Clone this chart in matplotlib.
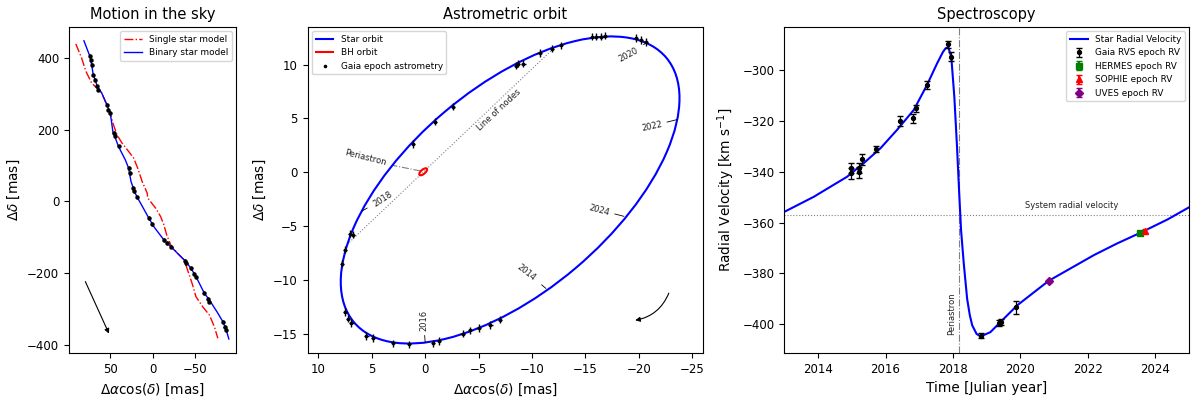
import matplotlib
matplotlib.use('Agg')
import matplotlib.pyplot as plt
from matplotlib.patches import Ellipse
from matplotlib.lines import Line2D

# ---------------- Panel 1: motion in the sky ----------------
single_ra = [90.5, 83.7, 78.6, 71.8, 65.8, 59.9, 50.8, 46.1, 42.0, 36.1, 28.2, 22.3, 17.5, 12.3,
             6.3, 5.6, -3.6, -9.5, -13.4, -16.7, -21.4, -29.4, -37.2, -41.3, -47.2, -51.2,
             -59.1, -67.0, -72.9, -77.0]
single_dec = [439, 400, 362.6, 330, 316, 302, 251, 214, 186, 163, 139.5, 121, 93, 56,
              23.4, 9.5, -18.4, -41.8, -65, -93, -120.8, -144, -162.6, -190.5, -232, -265,
              -293, -316, -348.6, -381]
binary_ra = [80.9, 73.8, 71.8, 69.9, 65.1, 59.9, 53.9, 50.0, 48.5, 46.8, 40.1, 32.1, 28.2, 25.4,
             21.4, 17.5, 4.4, -1.5, -13.4, -21.4, -31.3, -39.3, -45.2, -51.2, -61.1, -67.0,
             -77.0, -82.9, -86.9, -90.0]
binary_dec = [447.6, 404, 381, 353, 321, 302, 270, 246.5, 225, 195, 153, 116, 93, 56,
              28, 9.5, -46, -70, -107, -125.5, -148.7, -167, -186, -209, -255.5, -274,
              -311, -334.7, -357.8, -383]
sky_obs_ra = [73.8, 73.0, 71.4, 69.8, 67.9, 65.1, 64.0, 54.0, 52.0, 50.0, 46.0, 44.8, 40.1,
              28.2, 26.2, 23.0, 21.4, 18.3, 4.4, 0.4, -13.5, -17.4, -21.4, -38.1, -39.3,
              -45.2, -49.2, -51.2, -61.1, -65.1, -67.0, -82.9, -84.9, -86.9]
sky_obs_dec = [404.4, 395.2, 381.3, 353.4, 339.4, 320.7, 311.5, 269.7, 255.8, 246.5, 190.7,
               183.2, 153.4, 93.1, 79.2, 37.4, 27.9, 11.2, -46.4, -63.1, -106.8, -116.1,
               -125.5, -165.4, -171.9, -185.8, -202.6, -209.2, -255.5, -271.4, -278.9,
               -334.7, -348.6, -357.8]

# ---------------- Panel 2: astrometric orbit ----------------
star_orbit_center = (-7.95, -1.65)
star_orbit_axes = (38.2, 19.0)      # full major / minor axis [mas]
star_orbit_angle = -40.0
bh_orbit_center = (0.19, 0.04)
bh_orbit_axes = (0.9, 0.4)
bh_orbit_angle = -40.0

astro_ra = [1.15, -0.93, -2.6, -8.5, -8.7, -9.2, -10.7, -11.9, -12.7, -15.6, -16.0, -16.5,
            -16.8, -19.7, -20.2, -20.7,
            6.8, 7.0, 7.5, 7.8, 7.5, 7.2, 6.9, 5.5, 4.9, 3.0, 1.5, -0.7, -1.3, -3.5, -4.2,
            -5.0, -6.1, -7.0]
astro_dec = [2.6, 4.7, 6.1, 9.9, 10.1, 10.1, 11.1, 11.5, 11.8, 12.6, 12.6, 12.6,
             12.7, 12.5, 12.3, 12.1,
             -5.8, -5.7, -7.2, -8.5, -13.0, -13.6, -14.0, -15.2, -15.4, -15.9, -16.0, -15.9,
             -15.7, -15.0, -14.7, -14.5, -14.2, -13.7]

nodes_ra = [7.3, -11.9]
nodes_dec = [-6.7, 11.4]
peri_ra = [0.45, 3.1]
peri_dec = [0.12, 0.65]

year_labels = ['2020', '2022', '2018', '2024', '2014', '2016']
year_orbit_ra = [-20.8, -23.6, 5.9, -18.6, -11.3, 0.0]
year_orbit_dec = [12.1, 4.9, -3.6, -4.1, -10.8, -15.85]
year_text_ra = [-19.0, -21.2, 4.0, -16.3, -9.5, 0.15]
year_text_dec = [10.9, 4.3, -2.5, -3.5, -9.3, -13.8]
year_rot = [28, 12, 33, -15, -38, 90]

# ---------------- Panel 3: spectroscopy ----------------
rv_model_t = [2013.0, 2013.87, 2014.86, 2015.35, 2015.85, 2016.34, 2016.84, 2017.23, 2017.53,
              2017.70, 2017.78, 2017.86, 2017.95, 2018.04, 2018.12, 2018.19, 2018.24, 2018.32,
              2018.42, 2018.50, 2018.57, 2018.70, 2018.82, 2019.11, 2019.41, 2019.91, 2020.84,
              2021.49, 2022.18, 2022.87, 2023.56, 2024.36, 2025.0]
rv_model_v = [-355.8, -349.9, -342.0, -336.7, -330.8, -323.6, -315.7, -305.9, -297.4,
              -293.0, -291.5, -291.1, -294.8, -310.5, -330.2, -349.9, -363.0, -376.1,
              -390.0, -396.5, -400.4, -403.8, -404.8, -403.1, -399.1, -392.5, -382.9,
              -378.0, -372.8, -368.2, -364.0, -358.8, -354.0]

gaia_t = [2014.98, 2014.98, 2015.20, 2015.20, 2015.30, 2015.72, 2016.44, 2016.81, 2016.89,
          2017.23, 2017.85, 2017.93, 2018.82, 2019.36, 2019.41, 2019.88]
gaia_v = [-338.7, -340.7, -338.7, -340.3, -335.2, -331.1, -320.1, -319.0, -315.1,
          -305.9, -289.9, -294.8, -404.5, -399.6, -399.0, -393.3]
gaia_err = [2.0, 2.0, 2.0, 2.0, 2.0, 1.2, 1.8, 1.8, 1.5, 1.5, 1.3, 1.8, 1.0, 1.2, 1.2, 2.5]
hermes_t, hermes_v, hermes_err = [2023.54], [-364.2], [0.8]
sophie_t, sophie_v, sophie_err = [2023.68], [-363.4], [0.8]
uves_t, uves_v, uves_err = [2020.84], [-383.0], [0.5]
periastron_t = 2018.17
system_rv = -357.0

# ================= Figure =================
fig = plt.figure(figsize=(12, 3.98), dpi=100)
TITLE, LAB, TICK, LEG, ANN = 10.5, 9.8, 8.5, 6.4, 6

# Panel 1
ax1 = fig.add_axes([0.0575, 0.1131, 0.1392, 0.8191])
ax1.plot(single_ra, single_dec, color='red', ls='-.', lw=1.0, label='Single star model')
ax1.plot(binary_ra, binary_dec, color='blue', ls='-', lw=1.0, label='Binary star model')
ax1.errorbar(sky_obs_ra, sky_obs_dec, xerr=1.2, yerr=5, fmt='o', ms=2.2, color='black',
             elinewidth=0.8, capsize=0, zorder=3)
ax1.annotate('', xy=(50, -375), xytext=(80.6, -216),
             arrowprops=dict(arrowstyle='-|>', color='black', lw=0.8, mutation_scale=7))
ax1.set_xlim(98.5, -98.5)
ax1.set_ylim(-422, 486)
ax1.set_xticks([50, 0, -50])
ax1.set_yticks([-400, -200, 0, 200, 400])
ax1.set_title('Motion in the sky', fontsize=TITLE)
ax1.set_xlabel(r'$\Delta\alpha\cos(\delta)$ [mas]', fontsize=LAB)
ax1.set_ylabel(r'$\Delta\delta$ [mas]', fontsize=LAB)
ax1.tick_params(labelsize=TICK)
ax1.legend(loc='upper right', fontsize=LEG)

# Panel 2
ax2 = fig.add_axes([0.2564, 0.1131, 0.3294, 0.8191])
ax2.add_patch(Ellipse(star_orbit_center, star_orbit_axes[0], star_orbit_axes[1],
                      angle=star_orbit_angle, fill=False, edgecolor='blue', lw=1.5, zorder=2))
ax2.add_patch(Ellipse(bh_orbit_center, bh_orbit_axes[0], bh_orbit_axes[1],
                      angle=bh_orbit_angle, fill=False, edgecolor='red', lw=1.5, zorder=2))
ax2.plot(nodes_ra, nodes_dec, ls=':', color='gray', lw=0.8, zorder=1)
ax2.plot(peri_ra, peri_dec, ls='-.', color='gray', lw=0.8, zorder=1)
ax2.errorbar(astro_ra, astro_dec, xerr=0.2, yerr=0.35, fmt='o', ms=1.6, color='black',
             elinewidth=1.0, capsize=0, zorder=3)
ax2.text(5.6, 1.35, 'Periastron', fontsize=ANN, rotation=-14, ha='center', va='center',
         color='#222222')
ax2.text(-6.9, 5.8, 'Line of nodes', fontsize=ANN, rotation=43, ha='center', va='center',
         color='#222222')
for lab, ox, oy, tx, ty, r in zip(year_labels, year_orbit_ra, year_orbit_dec,
                                   year_text_ra, year_text_dec, year_rot):
    ax2.annotate(lab, xy=(ox, oy), xytext=(tx, ty), fontsize=ANN, rotation=r,
                 ha='center', va='center', color='#222222',
                 arrowprops=dict(arrowstyle='-', color='black', lw=0.6,
                                 shrinkA=1, shrinkB=0))
ax2.annotate('', xy=(-19.4, -13.8), xytext=(-22.9, -11.0),
             arrowprops=dict(arrowstyle='-|>', color='black', lw=0.8, mutation_scale=7,
                             connectionstyle='arc3,rad=-0.3'))
ax2.set_xlim(11, -26)
ax2.set_ylim(-16.8, 13.5)
ax2.set_xticks([10, 5, 0, -5, -10, -15, -20, -25])
ax2.set_yticks([-15, -10, -5, 0, 5, 10])
ax2.set_title('Astrometric orbit', fontsize=TITLE)
ax2.set_xlabel(r'$\Delta\alpha\cos(\delta)$ [mas]', fontsize=LAB)
ax2.set_ylabel(r'$\Delta\delta$ [mas]', fontsize=LAB)
ax2.tick_params(labelsize=TICK)
handles2 = [Line2D([], [], color='blue', lw=1.5),
            Line2D([], [], color='red', lw=1.5),
            Line2D([], [], color='black', ls='', marker='o', ms=1.6)]
ax2.legend(handles2, ['Star orbit', 'BH orbit', 'Gaia epoch astrometry'],
           loc='upper left', fontsize=LEG)

# Panel 3
ax3 = fig.add_axes([0.6536, 0.1131, 0.3373, 0.8191])
ax3.plot(rv_model_t, rv_model_v, color='blue', lw=1.5, label='Star Radial Velocity', zorder=2)
ax3.errorbar(gaia_t, gaia_v, yerr=gaia_err, fmt='o', ms=2.8, color='black', capsize=2,
             elinewidth=0.9, label='Gaia RVS epoch RV', zorder=3)
ax3.errorbar(hermes_t, hermes_v, yerr=hermes_err, fmt='s', ms=4, color='green', capsize=2,
             label='HERMES epoch RV', zorder=3)
ax3.errorbar(sophie_t, sophie_v, yerr=sophie_err, fmt='^', ms=4, color='red', capsize=2,
             label='SOPHIE epoch RV', zorder=3)
ax3.errorbar(uves_t, uves_v, yerr=uves_err, fmt='D', ms=4, color='purple', capsize=2,
             label='UVES epoch RV', zorder=3)
ax3.axvline(periastron_t, color='gray', ls='-.', lw=0.8, zorder=1)
ax3.axhline(system_rv, color='gray', ls=':', lw=0.8, zorder=1)
ax3.text(periastron_t - 0.2, -395.7, 'Periastron', fontsize=ANN, rotation=90,
         ha='center', va='center', color='#222222')
ax3.text(2021.52, -353.2, 'System radial velocity', fontsize=ANN, ha='center', va='center',
         color='#222222')
ax3.set_xlim(2013, 2025)
ax3.set_ylim(-411.3, -283.1)
ax3.set_xticks([2014, 2016, 2018, 2020, 2022, 2024])
ax3.set_yticks([-400, -380, -360, -340, -320, -300])
ax3.set_title('Spectroscopy', fontsize=TITLE)
ax3.set_xlabel('Time [Julian year]', fontsize=LAB)
ax3.set_ylabel(r'Radial Velocity [km s$^{-1}$]', fontsize=LAB)
ax3.tick_params(labelsize=TICK)
ax3.legend(loc='upper right', fontsize=LEG)

fig.savefig('out.png', dpi=100)
